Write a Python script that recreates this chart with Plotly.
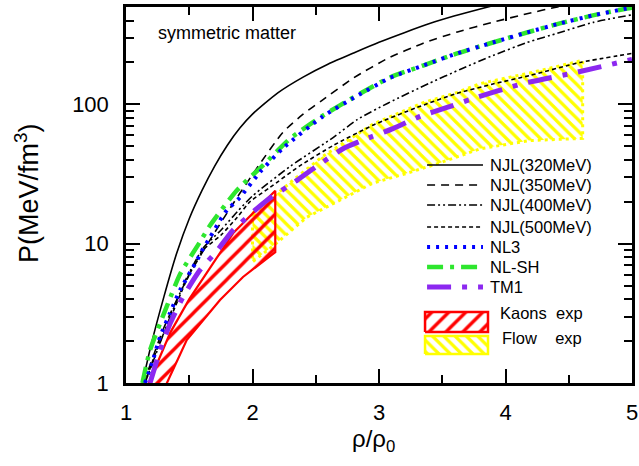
import plotly.graph_objects as go
import math

# ---------------- data ----------------
njl320_x = [1.13, 1.2, 1.3, 1.4, 1.5, 1.6, 1.7, 1.8, 1.9, 2.0, 2.2, 2.4, 2.6, 2.8, 3.0, 3.2, 3.4, 3.6, 3.8, 3.95]
njl320_p = [1.0, 1.9, 4.17, 8.5, 15.1, 24.0, 35.9, 50.7, 67.6, 85.1, 121, 157, 195, 234, 279, 327, 380, 432, 484, 525]

njl350_x = [1.14, 1.3, 1.5, 1.7, 1.9, 2.05, 2.24, 2.4, 2.55, 2.8, 3.07, 3.35, 3.62, 3.9, 4.17, 4.41, 4.6]
njl350_p = [1.0, 2.5, 6.0, 12, 23, 36.5, 63, 85, 107, 155, 214, 275, 331, 389, 447, 501, 545]

njl400_x = [1.15, 1.35, 1.48, 1.61, 1.75, 1.88, 2.0, 2.3, 2.64, 2.83, 3.07, 3.4, 3.64, 3.9, 4.17, 4.43, 4.69, 5.0]
njl400_p = [1.0, 3.0, 5.7, 9.3, 12.5, 17, 22, 36, 58, 78, 102, 142, 178, 224, 278, 328, 387, 440]

njl500_x = [1.15, 1.25, 1.35, 1.48, 1.61, 1.75, 1.88, 1.98, 2.14, 2.37, 2.64, 2.95, 3.3, 3.62, 3.9, 4.19, 4.59, 5.0]
njl500_p = [1.0, 1.8, 2.9, 5.5, 9.0, 11.5, 15.5, 20, 25.4, 36, 50.8, 70.7, 95, 120, 140, 161, 200, 232]

nl3_x = [1.15, 1.206, 1.269, 1.348, 1.427, 1.561, 1.609, 1.664, 1.743, 1.798, 1.901, 2.059, 2.241, 2.557,
         2.826, 3.087, 3.348, 3.617, 3.9, 4.17, 4.43, 4.69, 4.96, 5.0]
nl3_p = [1.0, 1.39, 2.14, 3.18, 4.64, 7.6, 9.2, 11.1, 14.7, 17.4, 21.5, 32.6, 48.4, 82,
         115, 155, 190, 232, 278, 328, 381, 435, 488, 495]

nlsh_x = [1.13, 1.19, 1.32, 1.43, 1.585, 1.664, 1.877, 2.083, 2.3, 2.557, 2.826, 3.087, 3.348, 3.617,
          3.9, 4.17, 4.43, 4.69, 4.96, 5.0]
nlsh_p = [1.0, 1.72, 3.5, 6.1, 10.3, 13.5, 24.2, 36.5, 57, 83, 116, 156, 190, 232,
          278, 328, 381, 435, 488, 495]

tm1_x = [1.19, 1.27, 1.35, 1.45, 1.585, 1.72, 1.846, 2.115, 2.352, 2.518, 2.715, 2.929, 3.111, 3.324,
         3.538, 3.743, 4.138, 4.565, 5.0]
tm1_p = [1.0, 1.72, 2.69, 4.13, 6.46, 8.9, 12.5, 20.5, 28.5, 36.5, 48, 58, 67, 82,
         95, 110, 141, 170, 210]

# experimental bands: upper edge left->right, lower edge right->left
kaon_up_x = [1.17, 1.35, 1.5, 1.72, 1.85, 2.18]
kaon_up_p = [0.95, 2.3, 4.0, 8.0, 12, 24]
kaon_lo_x = [2.18, 1.925, 1.743, 1.48, 1.3]
kaon_lo_p = [8.7, 5.77, 3.94, 2.03, 0.9]

flow_up_x = [2.0, 2.16, 2.32, 2.55, 2.95, 3.35, 3.62, 3.8, 4.19, 4.61]
flow_up_p = [16.5, 21.5, 28.5, 42, 72, 103, 122, 141, 168, 207]
flow_lo_x = [4.61, 4.19, 3.8, 3.48, 3.22, 2.95, 2.69, 2.43, 2.19, 2.0]
flow_lo_p = [57, 55, 48, 38, 32, 27.2, 20.5, 15.5, 10.1, 7.4]

x_ticks = [1, 2, 3, 4, 5]
x_minor = [1.5, 2.5, 3.5, 4.5]
y_ticks = [1, 10, 100]
y_ticktext = ["1", "10", "100"]
y_minor = [2, 3, 4, 5, 6, 7, 8, 9, 20, 30, 40, 50, 60, 70, 80, 90, 200, 300, 400, 500]

# ---------------- styles ----------------
FONT = "Arial, Liberation Sans, sans-serif"
RED = "#ff0000"
YELLOW = "#ffff00"
GREEN = "#2ee62e"
BLUE = "#0000ff"
PURPLE = "#8c28f0"

curves = [
    ("NJL(320MeV)", njl320_x, njl320_p, dict(color="black", width=1.6, dash="solid")),
    ("NJL(350MeV)", njl350_x, njl350_p, dict(color="black", width=1.6, dash="8px,6px")),
    ("NJL(400MeV)", njl400_x, njl400_p, dict(color="black", width=1.6, dash="8px,3px,2px,3px,2px,3px")),
    ("NJL(500MeV)", njl500_x, njl500_p, dict(color="black", width=1.6, dash="4px,3px")),
    ("NL-SH", nlsh_x, nlsh_p, dict(color=GREEN, width=4.5, dash="16px,7px,4px,7px")),
    ("NL3", nl3_x, nl3_p, dict(color=BLUE, width=4, dash="3px,6px")),
    ("TM1", tm1_x, tm1_p, dict(color=PURPLE, width=5, dash="24px,11px,5px,11px")),
]

fig = go.Figure()

# bands
fig.add_trace(go.Scatter(
    x=flow_up_x + flow_lo_x + flow_up_x[:1], y=flow_up_p + flow_lo_p + flow_up_p[:1],
    mode="lines", fill="toself", fillcolor="rgba(0,0,0,0)",
    fillpattern=dict(shape="\\", size=8, solidity=0.4, fgcolor=YELLOW,
                     bgcolor="rgba(0,0,0,0)", fillmode="replace"),
    line=dict(color=YELLOW, width=3, dash="3px,4px"), hoverinfo="skip"))
fig.add_trace(go.Scatter(
    x=kaon_up_x + kaon_lo_x + kaon_up_x[:1], y=kaon_up_p + kaon_lo_p + kaon_up_p[:1],
    mode="lines", fill="toself", fillcolor="rgba(0,0,0,0)",
    fillpattern=dict(shape="/", size=12, solidity=0.28, fgcolor=RED,
                     bgcolor="rgba(0,0,0,0)", fillmode="replace"),
    line=dict(color=RED, width=2.2), hoverinfo="skip"))

for name, xs, ps, ln in curves:
    fig.add_trace(go.Scatter(x=xs, y=ps, mode="lines", name=name,
                             line=dict(shape="spline", smoothing=0.6, **ln)))

# ---------------- custom legend (overlay axes in [0,1]) ----------------
legend_order = ["NJL(320MeV)", "NJL(350MeV)", "NJL(400MeV)", "NJL(500MeV)", "NL3", "NL-SH", "TM1"]
style = {n: ln for n, _, _, ln in curves}
lx0, lx1, ltx = 0.595, 0.7055, 0.7154
row_y = [0.5798, 0.5266, 0.4734, 0.4149, 0.3617, 0.3085, 0.2553]
annotations = []
for n, yy in zip(legend_order, row_y):
    fig.add_trace(go.Scatter(x=[lx0, lx1], y=[yy, yy], mode="lines", xaxis="x2", yaxis="y2",
                             line=style[n], hoverinfo="skip"))
    annotations.append(dict(x=ltx, y=yy, xref="paper", yref="paper", text=n, showarrow=False,
                            xanchor="left", yanchor="middle", font=dict(size=16.5, family=FONT, color="black")))

bx0, bx1 = 0.591, 0.7154
boxes = [("Kaons&nbsp;&nbsp;exp", 0.1356, 0.1888, RED, "/", 12, 0.28, 0.735, 0.186),
         ("Flow&nbsp;&nbsp;&nbsp;&nbsp;exp", 0.0771, 0.125, YELLOW, "\\", 8, 0.4, 0.739, 0.1197)]
for txt, y0, y1, col, shp, sz, sol, tx, ty in boxes:
    fig.add_trace(go.Scatter(x=[bx0, bx1, bx1, bx0, bx0], y=[y0, y0, y1, y1, y0], mode="lines",
                             xaxis="x2", yaxis="y2", fill="toself", fillcolor="rgba(0,0,0,0)",
                             fillpattern=dict(shape=shp, size=sz, solidity=sol, fgcolor=col,
                                              bgcolor="rgba(0,0,0,0)", fillmode="replace"),
                             line=dict(color=col, width=2.5), hoverinfo="skip"))
    annotations.append(dict(x=tx, y=ty, xref="paper", yref="paper", text=txt, showarrow=False,
                            xanchor="left", yanchor="middle", font=dict(size=16.5, family=FONT, color="black")))

annotations.append(dict(x=0.059, y=0.93, xref="paper", yref="paper", text="symmetric matter",
                        showarrow=False, xanchor="left", yanchor="middle",
                        font=dict(size=18, family=FONT, color="black")))
annotations.append(dict(x=-0.196, y=0.505, xref="paper", yref="paper", text="P(MeV/fm<sup>3</sup>)",
                        showarrow=False, textangle=-90, xanchor="center", yanchor="middle",
                        font=dict(size=27, family=FONT, color="black")))
annotations.append(dict(x=0.49, y=-0.152, xref="paper", yref="paper", text="ρ/ρ<sub>0</sub>",
                        showarrow=False, xanchor="center", yanchor="middle",
                        font=dict(size=24, family=FONT, color="black")))

axis_common = dict(showgrid=False, zeroline=False, showline=True, linecolor="black", linewidth=2.5,
                   mirror="allticks", ticks="inside", ticklen=14, tickwidth=2, tickcolor="black",
                   automargin=False, tickfont=dict(size=22, family=FONT, color="black"))

fig.update_layout(
    width=639, height=466, margin=dict(l=126, r=7, t=7, b=83, autoexpand=False),
    paper_bgcolor="white", plot_bgcolor="white", showlegend=False,
    xaxis=dict(range=[1, 5], tickvals=x_ticks, ticklabelstandoff=8,
               minor=dict(tickvals=x_minor, ticks="inside", ticklen=8, tickwidth=2, tickcolor="black"),
               **axis_common),
    yaxis=dict(type="log", range=[0, math.log10(500)], tickvals=y_ticks, ticktext=y_ticktext,
               ticklabelstandoff=10,
               minor=dict(tickvals=y_minor, ticks="inside", ticklen=8, tickwidth=2, tickcolor="black"),
               **axis_common),
    xaxis2=dict(overlaying="x", anchor="y2", range=[0, 1], visible=False, fixedrange=True),
    yaxis2=dict(overlaying="y", anchor="x2", range=[0, 1], visible=False, fixedrange=True),
    annotations=annotations,
)

fig.write_html("out.html")
